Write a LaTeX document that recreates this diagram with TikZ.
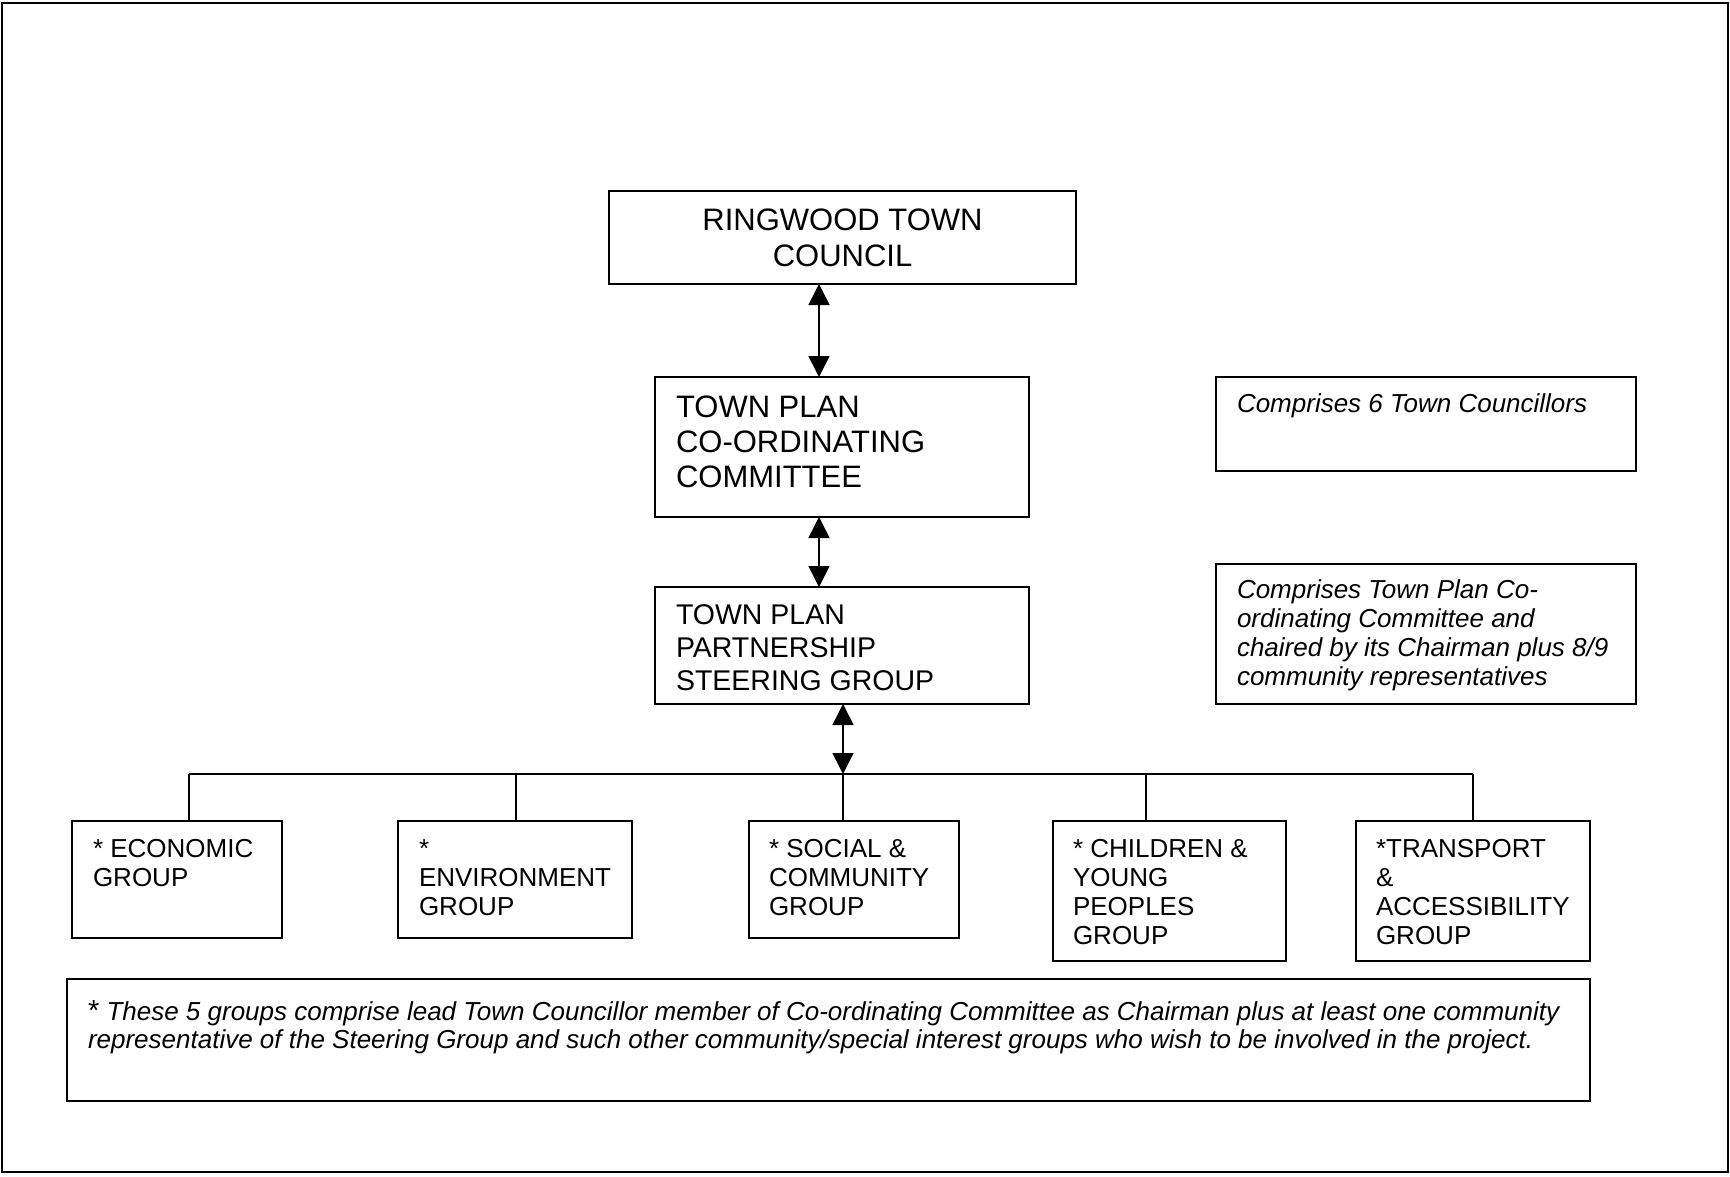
\documentclass[tikz,border=0pt]{standalone}
\usepackage{fontspec}
\setmainfont{Liberation Sans}
\usetikzlibrary{arrows.meta,calc}
\tikzset{
  bx/.style={draw, line width=1.6pt, inner sep=0pt, outer sep=0pt, anchor=north west},
  lbl/.style={inner sep=0pt, outer sep=0pt, align=left, anchor=base west},
  big/.style={font=\fontsize{31}{35}\selectfont},
  mid/.style={font=\fontsize{28.5}{33}\selectfont},
  grp/.style={font=\fontsize{26}{29}\selectfont},
  side/.style={font=\fontsize{26}{29}\selectfont\itshape},
  foot/.style={font=\fontsize{26}{28}\selectfont\itshape},
  conn/.style={line width=1.6pt},
  biarrow/.style={line width=1.6pt, {Triangle[width=21pt,length=21pt]}-{Triangle[width=21pt,length=21pt]}}
}
\begin{document}
\begin{tikzpicture}[x=1pt,y=-1pt]
\useasboundingbox (0,0) rectangle (1730,1176);
\draw[line width=2pt] (1.5,2.5) rectangle (1727.5,1171.5);

% main boxes (label anchors are at the baseline of the last line)
\node[bx, minimum width=467, minimum height=93] (rtc) at (609,191) {};
\node[lbl, align=center, anchor=base, font=\fontsize{31}{36}\selectfont] (rtct) at ($(rtc.north)+(0,75)$) {RINGWOOD TOWN\\COUNCIL};

\node[bx, minimum width=374, minimum height=140] (tpcc) at (655,377) {};
\node[lbl, big] (tpcct) at ($(tpcc.north west)+(21,110)$) {TOWN PLAN\\CO-ORDINATING\\COMMITTEE};

\node[bx, minimum width=374, minimum height=117] (sg) at (655,587) {};
\node[lbl, mid] (sgt) at ($(sg.north west)+(21,103)$) {TOWN PLAN\\PARTNERSHIP\\STEERING GROUP};

% side notes
\node[bx, minimum width=420, minimum height=94] (n1) at (1216,377) {};
\node[lbl, side] (n1t) at ($(n1.north west)+(21,35)$) {Comprises 6 Town Councillors};

\node[bx, minimum width=420, minimum height=140] (n2) at (1216,564) {};
\node[lbl, side] (n2t) at ($(n2.north west)+(21,121)$) {Comprises Town Plan Co-\\ordinating Committee and\\chaired by its Chairman plus 8/9\\community representatives};

% group boxes
\node[bx, minimum width=210, minimum height=117] (g1) at (72,821) {};
\node[lbl, grp] (g1t) at ($(g1.north west)+(21,65)$) {* ECONOMIC\\GROUP};

\node[bx, minimum width=234, minimum height=117] (g2) at (398,821) {};
\node[lbl, grp] (g2t) at ($(g2.north west)+(21,94)$) {*\\ENVIRONMENT\\GROUP};

\node[bx, minimum width=210, minimum height=117] (g3) at (749,821) {};
\node[lbl, grp] (g3t) at ($(g3.north west)+(20,94)$) {* SOCIAL \&\\COMMUNITY\\GROUP};

\node[bx, minimum width=233, minimum height=140] (g4) at (1053,821) {};
\node[lbl, grp] (g4t) at ($(g4.north west)+(20,123)$) {* CHILDREN \&\\YOUNG\\PEOPLES\\GROUP};

\node[bx, minimum width=234, minimum height=140] (g5) at (1356,821) {};
\node[lbl, grp] (g5t) at ($(g5.north west)+(20,123)$) {*TRANSPORT\\\&\\ACCESSIBILITY\\GROUP};

% footnote
\node[bx, minimum width=1523, minimum height=122] (fn) at (67,979) {};
\node[lbl, foot] (fnt) at ($(fn.north west)+(21,69)$) {{\upshape\fontsize{29}{28}\selectfont *} These 5 groups comprise lead Town Councillor member of Co-ordinating Committee as Chairman plus at least one community\\representative of the Steering Group and such other community/special interest groups who wish to be involved in the project.};

% connectors
\draw[biarrow] (rtc.south -| 819,0) -- (tpcc.north -| 819,0);
\draw[biarrow] (tpcc.south -| 819,0) -- (sg.north -| 819,0);

\coordinate (b1) at (189,774);
\coordinate (b2) at (516,774);
\coordinate (b3) at (843,774);
\coordinate (b4) at (1146,774);
\coordinate (b5) at (1473,774);

\draw[biarrow] (sg.south -| b3) -- (b3);
\draw[conn] (b1) -- (b5);
\draw[conn] (b1) -- (b1 |- g1.north);
\draw[conn] (b2) -- (b2 |- g2.north);
\draw[conn] (b3) -- (b3 |- g3.north);
\draw[conn] (b4) -- (b4 |- g4.north);
\draw[conn] (b5) -- (b5 |- g5.north);
\end{tikzpicture}
\end{document}
